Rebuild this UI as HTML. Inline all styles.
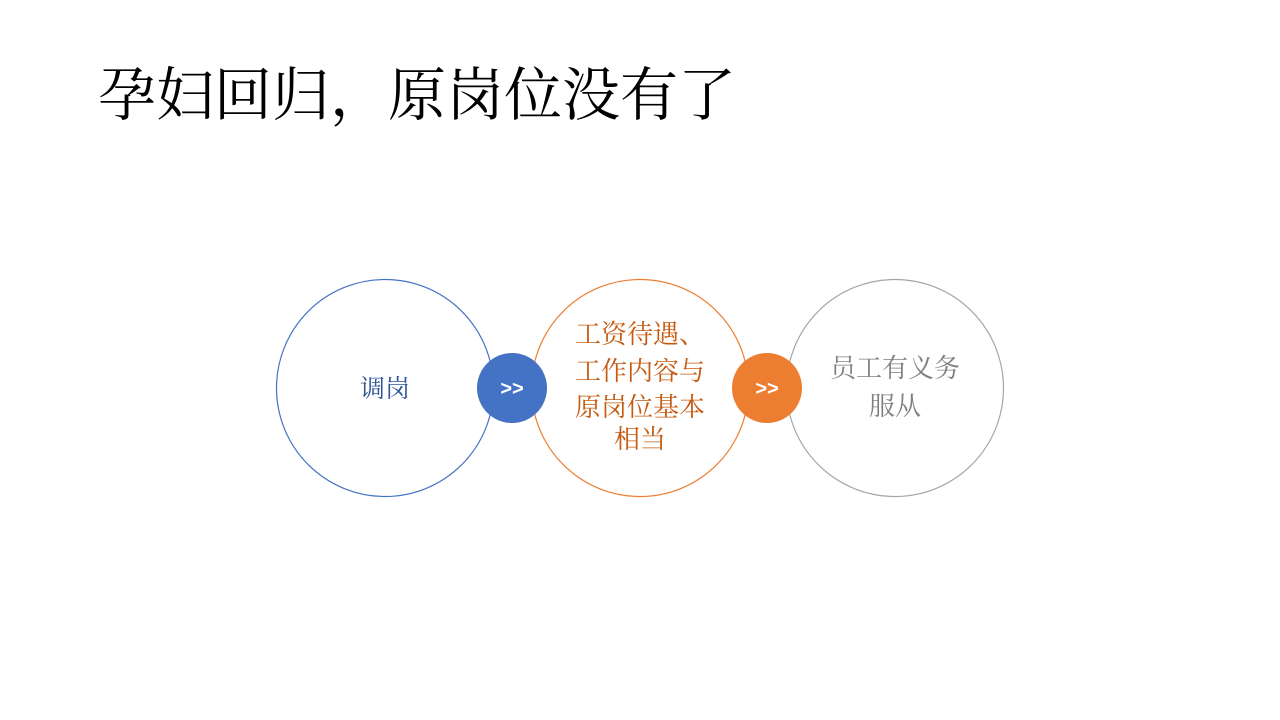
<!DOCTYPE html>
<html><head><meta charset="utf-8"><style>
body{margin:0;width:1280px;height:720px;background:#fff;overflow:hidden;position:relative;}
.t{position:absolute;left:98px;top:52px;font:58px "Noto Serif CJK SC",serif;color:#000;white-space:nowrap;line-height:76px;}
svg{position:absolute;left:0;top:0}
</style></head><body>
<div class="t">孕妇回归，原岗位没有了</div>
<svg width="1280" height="720" font-family="'Noto Serif CJK SC',serif">
<circle cx="385" cy="388" r="108.5" fill="none" stroke="#4472c4" stroke-width="1.2"/>
<circle cx="640" cy="388" r="108.5" fill="none" stroke="#ed7d31" stroke-width="1.2"/>
<circle cx="895" cy="388" r="108.5" fill="none" stroke="#a5a5a5" stroke-width="1.2"/>
<circle cx="512" cy="388" r="35" fill="#4472c4"/>
<circle cx="767" cy="388" r="35" fill="#ed7d31"/>
<text x="512" y="395" fill="#fff" font-family="'Liberation Sans',sans-serif" font-weight="bold" font-size="20" text-anchor="middle">&gt;&gt;</text>
<text x="767" y="395" fill="#fff" font-family="'Liberation Sans',sans-serif" font-weight="bold" font-size="20" text-anchor="middle">&gt;&gt;</text>
<text x="385" y="397" fill="#2f5597" font-size="25" text-anchor="middle">调岗</text>
<g fill="#c55a11" font-size="26" text-anchor="middle">
<text x="640" y="343">工资待遇、</text>
<text x="640" y="380">工作内容与</text>
<text x="640" y="416">原岗位基本</text>
<text x="640" y="448">相当</text>
</g>
<g fill="#7f7f7f" font-size="26" text-anchor="middle">
<text x="895" y="377">员工有义务</text>
<text x="895" y="415">服从</text>
</g>
</svg>
</body></html>
